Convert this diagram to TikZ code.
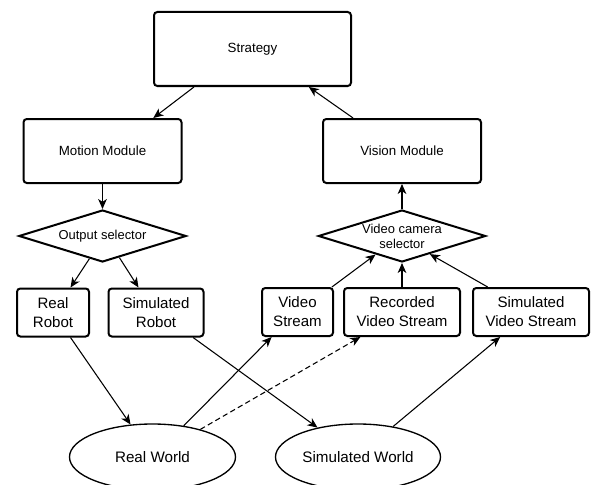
\documentclass[tikz,border=0pt]{standalone}
\usepackage{fontspec}
\setmainfont{Liberation Sans}
\usetikzlibrary{shapes.geometric,arrows.meta}
\begin{document}
\begin{tikzpicture}[x=0.75pt,y=-0.75pt,
    module/.style={draw,line width=1.5pt,rounded corners=2.5pt,align=center,
      inner sep=0pt,font=\fontsize{10}{12}\selectfont},
    source/.style={module,minimum height=36pt,font=\fontsize{11.3}{14.3}\selectfont},
    selector/.style={draw,diamond,line width=1.5pt,aspect=3.2,inner sep=0pt,align=center,
      minimum width=125.5pt,minimum height=39pt,font=\fontsize{9.7}{11.3}\selectfont},
    world/.style={draw,ellipse,line width=1pt,inner sep=0pt,minimum height=49.5pt,
      font=\fontsize{11.4}{13.7}\selectfont},
    arr/.style={-{Stealth[length=7.5pt,width=6.5pt,inset=2.2pt]},line width=0.8pt}]
    \useasboundingbox (0,0) rectangle (592,485);
    \node(Strategy) [module,minimum width=147.75pt,minimum height=55.5pt] at (252.5,49) {Strategy};
    \node(Motion) [module,minimum width=118.5pt,minimum height=48pt] at (102.5,151) {Motion Module};
    \node(Vision) [module,minimum width=118.5pt,minimum height=48pt] at (402,151) {Vision Module};
    \node(OutSel) [selector] at (102.5,236) {Output selector};
    \node(CamSel) [selector] at (402,236) {Video camera\\selector};
    \node(RealRobot) [source,minimum width=54pt] at (53,312.5) {Real\\Robot};
    \node(SimRobot) [source,minimum width=71.25pt] at (156,312.5) {Simulated\\Robot};
    \node(VideoStream) [source,minimum width=53.25pt] at (297.5,312) {Video\\Stream};
    \node(RecStream) [source,minimum width=87pt] at (402,312) {Recorded\\Video Stream};
    \node(SimStream) [source,minimum width=87pt] at (531,312) {Simulated\\Video Stream};
    \node(RealWorld) [world,minimum width=124.5pt] at (152.5,457) {Real World};
    \node(SimWorld) [world,minimum width=123.75pt] at (358,457) {Simulated World};
    \draw[arr] (Strategy.213) -- (Motion.33);
    \draw[arr] (Vision.146) -- (Strategy.-34);
    \draw[arr] (Motion.south) -- (OutSel.north);
    \draw[arr] (OutSel.240) -- (RealRobot.55);
    \draw[arr] (OutSel.-52) -- (SimRobot.125);
    \draw[arr] (CamSel.north) -- (Vision.south);
    \draw[arr] (VideoStream.36) -- (CamSel.215);
    \draw[arr] (RecStream.north) -- (CamSel.south);
    \draw[arr] (SimStream.150) -- (CamSel.-33);
    \draw[arr] (RealRobot.-55) -- (RealWorld.124);
    \draw[arr] (SimRobot.-34) -- (SimWorld.144);
    \draw[arr] (RealWorld.45) -- (VideoStream.224);
    \draw[arr,dash pattern=on 4pt off 2.5pt] (RealWorld.30) -- (RecStream.211);
    \draw[arr] (SimWorld.41) -- (SimStream.219);
  \end{tikzpicture}
\end{document}
